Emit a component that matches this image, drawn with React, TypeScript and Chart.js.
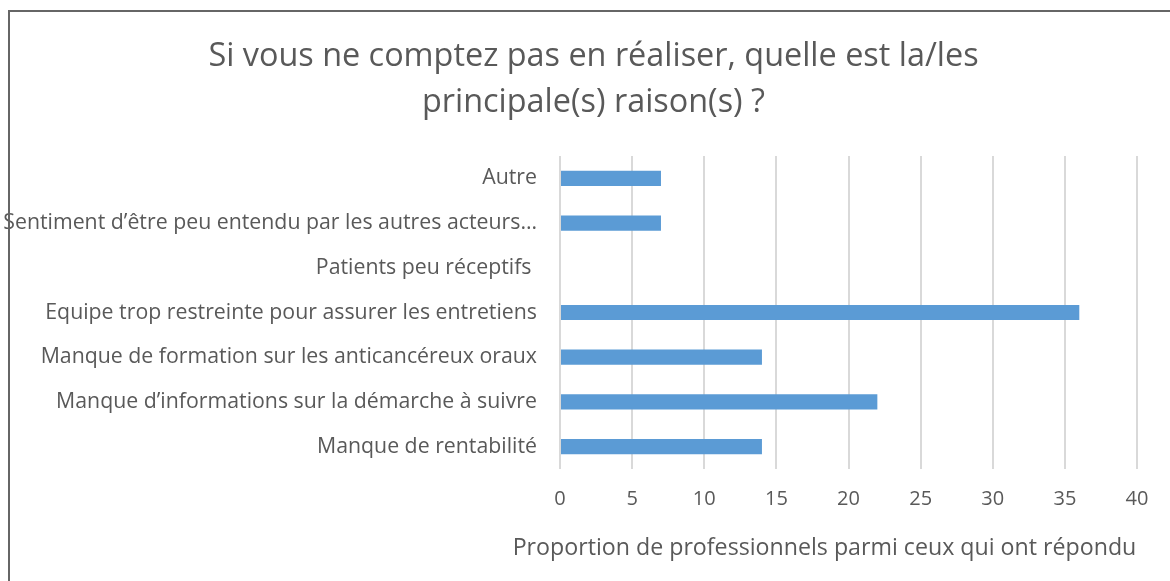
import React, { useEffect, useRef } from "react";
import { Chart, registerables } from "chart.js";

Chart.register(...registerables);

const titleLines = [
  "Si vous ne comptez pas en réaliser, quelle est la/les",
  "principale(s) raison(s) ?",
];
const categories = [
  "Autre",
  "Sentiment d’être peu entendu par les autres acteurs…",
  "Patients peu réceptifs ",
  "Equipe trop restreinte pour assurer les entretiens",
  "Manque de formation sur les anticancéreux oraux",
  "Manque d’informations sur la démarche à suivre",
  "Manque de rentabilité",
];
const values = [7, 7, 0, 36, 14, 22, 14];
const xTitle = "Proportion de professionnels parmi ceux qui ont répondu";
const xMin = 0;
const xMax = 40;
const xStep = 5;

const FONT = "'Open Sans', sans-serif";
const GREY = "#595959";

const shiftTitle = {
  id: "shiftTitle",
  afterLayout(chart: any) {
    const tb = chart.titleBlock;
    if (tb) {
      tb.left = 50;
    }
  },
};

// x-axis title drawn without the maxWidth squeeze Chart.js applies
const xAxisTitle = {
  id: "xAxisTitle",
  afterDraw(chart: any) {
    const s = chart.scales.x;
    const ctx = chart.ctx;
    ctx.save();
    ctx.font = `23.2px ${FONT}`;
    ctx.fillStyle = GREY;
    ctx.textAlign = "center";
    ctx.textBaseline = "middle";
    ctx.fillText(xTitle, (s.left + s.right) / 2 - 24, s.bottom - 33);
    ctx.restore();
  },
};

export default function App() {
  const ref = useRef<HTMLCanvasElement | null>(null);
  useEffect(() => {
    document.body.style.margin = "0";
    const canvas = ref.current!;
    const chart = new Chart(canvas, {
      type: "bar",
      data: {
        labels: categories,
        datasets: [
          {
            data: values,
            backgroundColor: "#5b9bd5",
            borderWidth: 0,
            categoryPercentage: 0.5,
            barPercentage: 0.68,
          },
        ],
      },
      plugins: [shiftTitle, xAxisTitle],
      options: {
        indexAxis: "y",
        animation: false,
        responsive: false,
        maintainAspectRatio: false,
        layout: { padding: { left: 0, right: 33, top: 0, bottom: 0 } },
        plugins: {
          legend: { display: false },
          tooltip: { enabled: false },
          title: {
            display: true,
            text: titleLines,
            color: GREY,
            font: { family: FONT, size: 32.4, weight: "normal", lineHeight: 1.42 },
            padding: { top: 34, bottom: 30 },
          },
        },
        scales: {
          x: {
            min: xMin,
            max: xMax,
            ticks: {
              stepSize: xStep,
              color: GREY,
              font: { family: FONT, size: 20 },
              padding: 18,
            },
            grid: { color: "#d9d9d9", lineWidth: 2, drawTicks: false },
            border: { display: false },
            title: { display: false },
            afterFit: (scale: any) => {
              scale.height = 112;
            },
          },
          y: {
            ticks: {
              color: GREY,
              font: { family: FONT, size: 21.3 },
              padding: 23,
            },
            grid: { display: false, drawTicks: false },
            border: { display: false },
            afterFit: (scale: any) => {
              scale.width = 560;
            },
          },
        },
      },
    });
    return () => chart.destroy();
  }, []);
  return (
    <div
      style={{
        position: "fixed",
        left: 0,
        top: 0,
        width: 1170,
        height: 581,
        overflow: "hidden",
        background: "#fff",
      }}
    >
      <canvas ref={ref} width={1170} height={581} style={{ display: "block" }} />
      <div
        style={{
          position: "absolute",
          left: 8,
          top: 10,
          width: 1300,
          height: 700,
          borderLeft: "2px solid #666",
          borderTop: "2px solid #666",
          pointerEvents: "none",
        }}
      />
    </div>
  );
}
